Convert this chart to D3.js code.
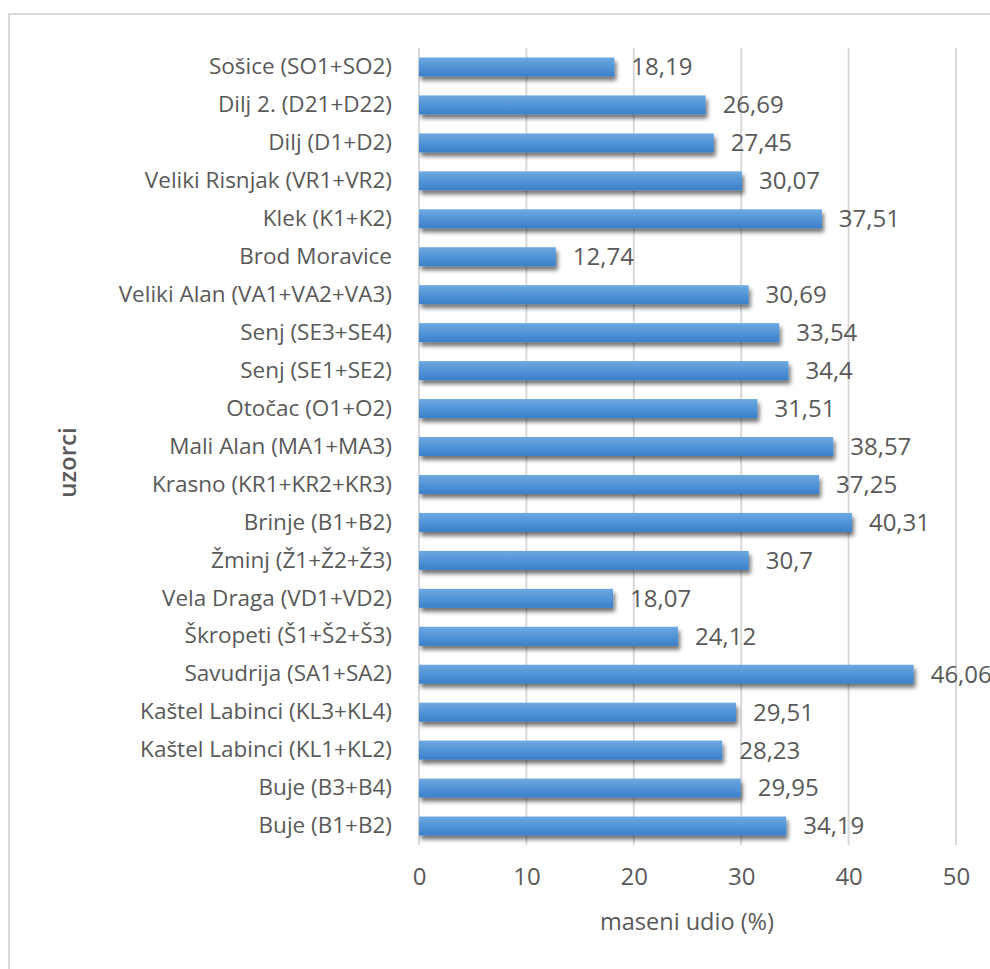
<!DOCTYPE html>
<html>
<head>
<meta charset="utf-8">
<script src="https://cdn.jsdelivr.net/npm/d3@7"></script>
<style>
  body { margin: 0; background: #fff; }
  svg { display: block; }
</style>
</head>
<body>
<script>
const categories = [
  "Sošice (SO1+SO2)",
  "Dilj 2. (D21+D22)",
  "Dilj (D1+D2)",
  "Veliki Risnjak (VR1+VR2)",
  "Klek (K1+K2)",
  "Brod Moravice",
  "Veliki Alan (VA1+VA2+VA3)",
  "Senj (SE3+SE4)",
  "Senj (SE1+SE2)",
  "Otočac (O1+O2)",
  "Mali Alan (MA1+MA3)",
  "Krasno (KR1+KR2+KR3)",
  "Brinje (B1+B2)",
  "Žminj (Ž1+Ž2+Ž3)",
  "Vela Draga (VD1+VD2)",
  "Škropeti (Š1+Š2+Š3)",
  "Savudrija (SA1+SA2)",
  "Kaštel Labinci (KL3+KL4)",
  "Kaštel Labinci (KL1+KL2)",
  "Buje (B3+B4)",
  "Buje (B1+B2)"
];
const values = [18.19, 26.69, 27.45, 30.07, 37.51, 12.74, 30.69, 33.54, 34.4, 31.51,
  38.57, 37.25, 40.31, 30.7, 18.07, 24.12, 46.06, 29.51, 28.23, 29.95, 34.19];
const xTicks = [0, 10, 20, 30, 40, 50];
const xTitle = "maseni udio (%)";
const yTitle = "uzorci";

const width = 990;
const height = 969;
const plotLeft = 419, plotRight = 956, plotTop = 48, plotBottom = 845;
const font = "'Open Sans', sans-serif";
const textColor = "#595959";

const data = categories.map((c, i) => ({ name: c, value: values[i] }));

const svg = d3.select("body").append("svg")
  .attr("width", width)
  .attr("height", height);

const defs = svg.append("defs");
const grad = defs.append("linearGradient")
  .attr("id", "barGrad")
  .attr("x1", 0).attr("y1", 0).attr("x2", 0).attr("y2", 1);
grad.append("stop").attr("offset", "0%").attr("stop-color", "#6ea9e0");
grad.append("stop").attr("offset", "55%").attr("stop-color", "#4f92d6");
grad.append("stop").attr("offset", "100%").attr("stop-color", "#3a80c9");

const shadow = defs.append("filter")
  .attr("id", "shadow")
  .attr("x", "-5%").attr("y", "-50%")
  .attr("width", "115%").attr("height", "220%");
shadow.append("feGaussianBlur").attr("in", "SourceAlpha").attr("stdDeviation", 2.2).attr("result", "blur");
shadow.append("feOffset").attr("in", "blur").attr("dx", 2).attr("dy", 3.5).attr("result", "off");
shadow.append("feComponentTransfer").attr("in", "off").attr("result", "soft")
  .append("feFuncA").attr("type", "linear").attr("slope", 0.55);
const merge = shadow.append("feMerge");
merge.append("feMergeNode").attr("in", "soft");
merge.append("feMergeNode").attr("in", "SourceGraphic");

// chart frame
svg.append("rect")
  .attr("x", 9).attr("y", 14)
  .attr("width", 1100).attr("height", 1100)
  .attr("fill", "#fff")
  .attr("stroke", "#d9d9d9")
  .attr("stroke-width", 2);

const x = d3.scaleLinear().domain([0, 50]).range([plotLeft, plotRight]);
const y = d3.scaleBand().domain(categories).range([plotTop, plotBottom]).paddingInner(0.5).paddingOuter(0.25);

// gridlines
svg.append("g")
  .selectAll("line")
  .data(xTicks)
  .join("line")
  .attr("x1", d => x(d)).attr("x2", d => x(d))
  .attr("y1", plotTop).attr("y2", plotBottom)
  .attr("stroke", "#d9d9d9")
  .attr("stroke-width", 2);

// x axis labels
const xAxis = d3.axisBottom(x).tickValues(xTicks).tickSize(0).tickPadding(0);
svg.append("g")
  .attr("transform", `translate(0, ${plotBottom + 23})`)
  .call(xAxis)
  .call(g => g.select(".domain").remove())
  .call(g => g.selectAll("text")
    .attr("font-family", font)
    .attr("font-size", 24)
    .attr("fill", textColor));

// y axis labels
const yAxis = d3.axisLeft(y).tickSize(0).tickPadding(0);
svg.append("g")
  .attr("transform", `translate(${plotLeft - 27}, 0)`)
  .call(yAxis)
  .call(g => g.select(".domain").remove())
  .call(g => g.selectAll("text")
    .attr("font-family", font)
    .attr("font-size", 22.5)
    .attr("fill", textColor));

// bars
svg.append("g")
  .selectAll("rect")
  .data(data)
  .join("rect")
  .attr("x", x(0))
  .attr("y", d => y(d.name))
  .attr("width", d => x(d.value) - x(0))
  .attr("height", y.bandwidth())
  .attr("fill", "url(#barGrad)")
  .attr("filter", "url(#shadow)");

// value labels
svg.append("g")
  .selectAll("text")
  .data(data)
  .join("text")
  .attr("x", d => x(d.value) + 17)
  .attr("y", d => y(d.name) + y.bandwidth() / 2)
  .attr("dy", "0.35em")
  .attr("font-family", font)
  .attr("font-size", 24)
  .attr("fill", textColor)
  .text(d => String(d.value).replace(".", ","));

// axis titles
svg.append("text")
  .attr("x", 687)
  .attr("y", 930)
  .attr("text-anchor", "middle")
  .attr("font-family", font)
  .attr("font-size", 23.5)
  .attr("fill", textColor)
  .text(xTitle);

svg.append("text")
  .attr("transform", `translate(76, ${(plotTop + plotBottom) / 2 + 16}) rotate(-90)`)
  .attr("text-anchor", "middle")
  .attr("font-family", font)
  .attr("font-size", 24)
  .attr("font-weight", 600)
  .attr("fill", textColor)
  .text(yTitle);
</script>
</body>
</html>
